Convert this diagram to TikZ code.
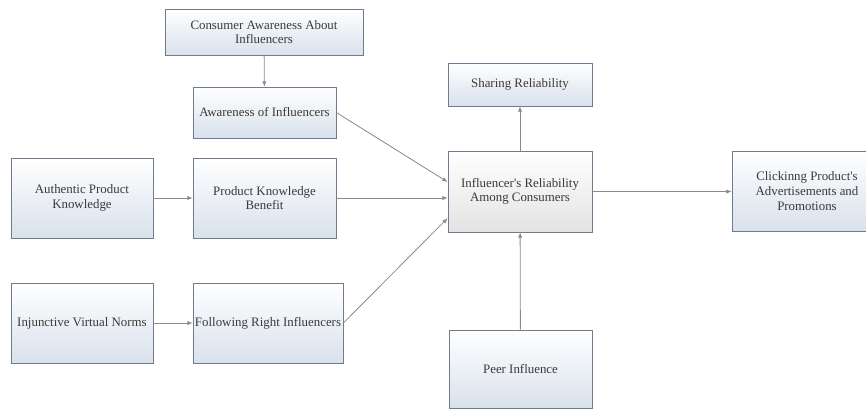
\documentclass[tikz,border=0pt]{standalone}
\usepackage{fontspec}
\setmainfont{Liberation Serif}[Ligatures=TeXOff]
\usepackage{xcolor}
\usepackage{tikz}
\usetikzlibrary{arrows.meta}
\definecolor{boxline}{HTML}{6F7C8E}
\definecolor{boxfill}{HTML}{D9E1EC}
\definecolor{arrowline}{HTML}{8A8A8A}
\definecolor{txt}{HTML}{3A3A3A}

\begin{document}
\begin{tikzpicture}[x=0.03cm, y=-0.03cm,
	main/.style = {draw=boxline, line width=0.6pt, top color=white, bottom color=boxfill, align=center, text=txt, font=\fontsize{11}{12.5}\selectfont, inner sep=1pt},
	core/.style = {main, bottom color=black!11},
	link/.style = {draw=arrowline, line width=0.7pt, -{Latex[length=1.6mm,width=1.3mm]}}]
							\useasboundingbox (0,0) rectangle (866,410);
							\clip (0,0) rectangle (866,410);
							\node[main, minimum width=5.94cm, minimum height=1.38cm] (cons) at (264,32) {Consumer Awareness About\\Influencers};
							\node[main, minimum width=4.29cm, minimum height=1.53cm] (aware) at (264.5,112.5) {Awareness of Influencers};
							\node[main, minimum width=4.26cm, minimum height=2.4cm] (auth) at (82,198) {Authentic Product\\Knowledge};
							\node[main, minimum width=4.29cm, minimum height=2.4cm] (prod) at (264.5,198) {Product Knowledge\\Benefit};
							\node[main, minimum width=4.26cm, minimum height=2.4cm] (inj) at (82,323) {Injunctive Virtual Norms};
							\node[main, minimum width=4.5cm, minimum height=2.4cm, inner sep=0pt] (follow) at (268,323) {Following Right Influencers};
							\node[main, minimum width=4.32cm, minimum height=1.29cm] (share) at (520,84.5) {Sharing Reliability};
							\node[core, minimum width=4.32cm, minimum height=2.43cm] (rel) at (520,191.5) {Influencer's Reliability\\Among Consumers};
							\node[main, minimum width=4.5cm, minimum height=2.4cm] (click) at (807,191) {Clickinng Product's\\Advertisements and\\Promotions};
							\node[main, minimum width=4.29cm, minimum height=2.34cm] (peer) at (520.5,369) {Peer Influence};
							% arrows
							\draw[link] (cons) -- (aware);
							\draw[link] (auth) -- (prod);
							\draw[link] (inj) -- (follow);
							\draw[link] (aware.east) -- ([yshift=0.285cm]rel.west);
							\draw[link] (prod.east) -- (prod.east -| rel.west);
							\draw[link] (follow.east) -- ([yshift=-0.8cm]rel.west);
							\draw[link] (peer) -- (rel);
							\draw[link] (rel) -- (share);
							\draw[link] (rel.east) -- (rel.east -| click.west);
\end{tikzpicture}
\end{document}
